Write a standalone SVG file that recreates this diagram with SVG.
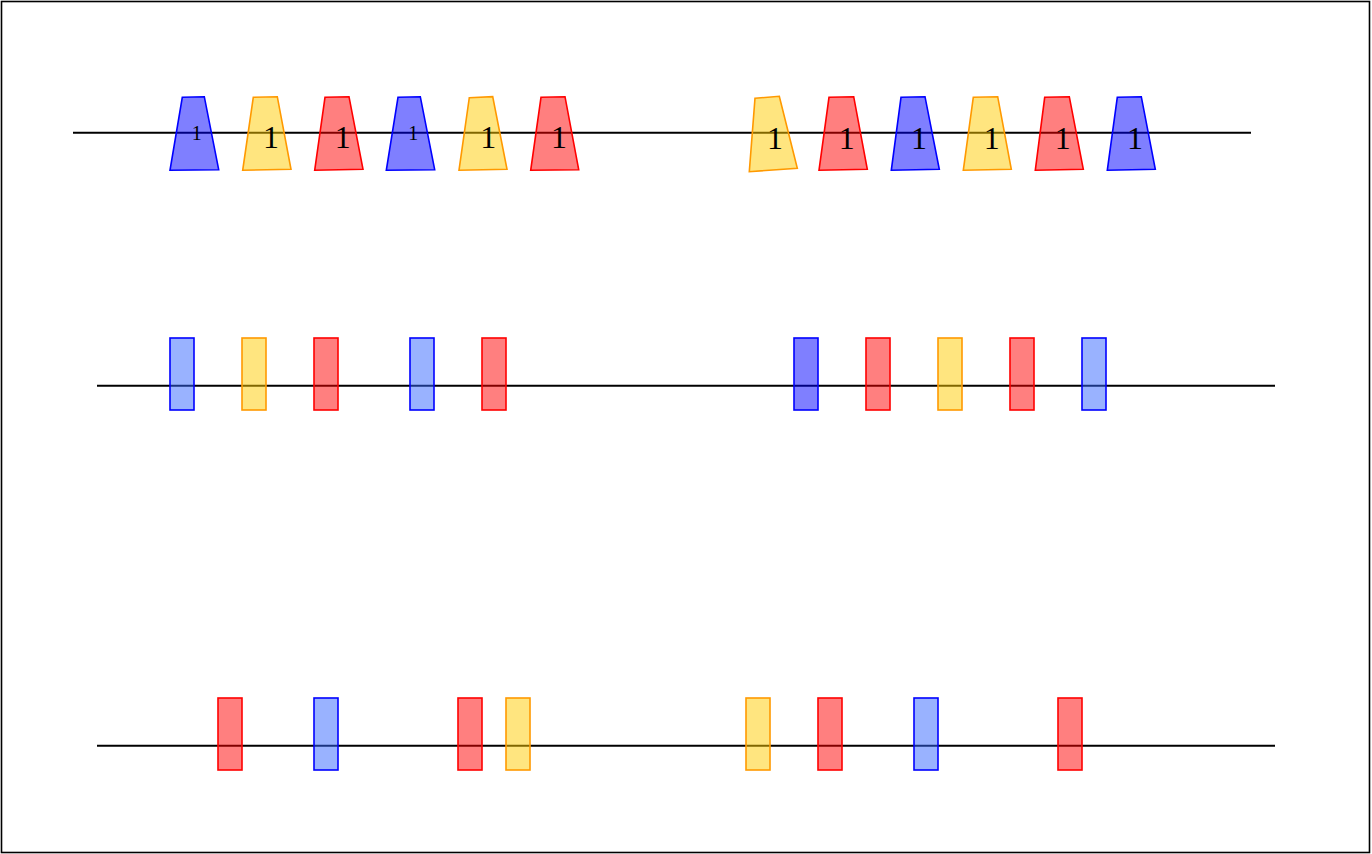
<svg xmlns="http://www.w3.org/2000/svg" width="1372" height="854" viewBox="0 0 1372 854">
<style>
.b{fill:#0000ff;fill-opacity:.5;stroke:#0000ff;stroke-width:1.6}
.lb{fill:#3366ff;fill-opacity:.5;stroke:#0000ff;stroke-width:1.6}
.r{fill:#ff0000;fill-opacity:.5;stroke:#ff0000;stroke-width:1.6}
.y{fill:#ffcc00;fill-opacity:.5;stroke:#ff9900;stroke-width:1.6}
.ax{stroke:#000;stroke-width:2;fill:none}
.t{font-family:"Liberation Serif",serif;fill:#000;text-anchor:middle}
.s{font-size:20px}
.L{font-size:32px}
</style>
<rect x="1.5" y="1.5" width="1368" height="851" fill="#fff" stroke="#000" stroke-width="1.6"/>
<g id="axes">
<line class="ax" x1="73" y1="132.7" x2="1251" y2="132.7"/>
<line class="ax" x1="97" y1="385.7" x2="1275" y2="385.7"/>
<line class="ax" x1="97" y1="745.7" x2="1275" y2="745.7"/>
</g>
<g id="row1">
<g id="t1"><polygon class="b" points="182.3,97.3 204.3,96.7 218.7,169.7 170,170.3"/><text class="t s" x="196.7" y="140">1</text></g>
<g id="t2"><polygon class="y" points="253.3,97.3 277.3,96.7 291,169.3 242.7,170.3"/><text class="t L" x="271" y="148.3">1</text></g>
<g id="t3"><polygon class="r" points="325,97.3 349,96.7 363,169.3 314.7,170.3"/><text class="t L" x="342.7" y="148.3">1</text></g>
<g id="t4"><polygon class="b" points="398,97.3 420.3,96.7 434.7,169.7 386.3,170.3"/><text class="t s" x="413.3" y="140">1</text></g>
<g id="t5"><polygon class="y" points="469.3,97.7 492.7,96.7 507,169.3 459,170.3"/><text class="t L" x="488.3" y="148.3">1</text></g>
<g id="t6"><polygon class="r" points="541,97.3 565,96.7 578.7,169.7 530.7,170.3"/><text class="t L" x="559" y="148.3">1</text></g>
<g id="t7"><polygon class="y" points="755,98.3 779.3,96.3 797.3,168.3 749.3,171.7"/><text class="t L" x="775" y="149.3">1</text></g>
<g id="t8"><polygon class="r" points="829,97.3 853.7,96.7 867.3,169.3 819,170.3"/><text class="t L" x="846.7" y="149.3">1</text></g>
<g id="t9"><polygon class="b" points="901,97.3 925,96.7 939.3,169.3 891.3,170.3"/><text class="t L" x="919" y="149.3">1</text></g>
<g id="t10"><polygon class="y" points="973.3,97.3 997.7,96.7 1011.3,169.3 963.3,170.3"/><text class="t L" x="991.7" y="149.3">1</text></g>
<g id="t11"><polygon class="r" points="1044.7,97.3 1069.3,96.7 1083.3,169.3 1035.3,170.3"/><text class="t L" x="1062.7" y="149.3">1</text></g>
<g id="t12"><polygon class="b" points="1117.3,97.3 1141.3,96.7 1155.3,169.3 1107.3,170.3"/><text class="t L" x="1135" y="149.3">1</text></g>
</g>
<g id="row2">
<rect id="r2a" class="lb" x="170" y="338" width="24" height="72"/>
<rect id="r2b" class="y" x="242" y="338" width="24" height="72"/>
<rect id="r2c" class="r" x="314" y="338" width="24" height="72"/>
<rect id="r2d" class="lb" x="410" y="338" width="24" height="72"/>
<rect id="r2e" class="r" x="482" y="338" width="24" height="72"/>
<rect id="r2f" class="b" x="794" y="338" width="24" height="72"/>
<rect id="r2g" class="r" x="866" y="338" width="24" height="72"/>
<rect id="r2h" class="y" x="938" y="338" width="24" height="72"/>
<rect id="r2i" class="r" x="1010" y="338" width="24" height="72"/>
<rect id="r2j" class="lb" x="1082" y="338" width="24" height="72"/>
</g>
<g id="row3">
<rect id="r3a" class="r" x="218" y="698" width="24" height="72"/>
<rect id="r3b" class="lb" x="314" y="698" width="24" height="72"/>
<rect id="r3c" class="r" x="458" y="698" width="24" height="72"/>
<rect id="r3d" class="y" x="506" y="698" width="24" height="72"/>
<rect id="r3e" class="y" x="746" y="698" width="24" height="72"/>
<rect id="r3f" class="r" x="818" y="698" width="24" height="72"/>
<rect id="r3g" class="lb" x="914" y="698" width="24" height="72"/>
<rect id="r3h" class="r" x="1058" y="698" width="24" height="72"/>
</g>
</svg>
